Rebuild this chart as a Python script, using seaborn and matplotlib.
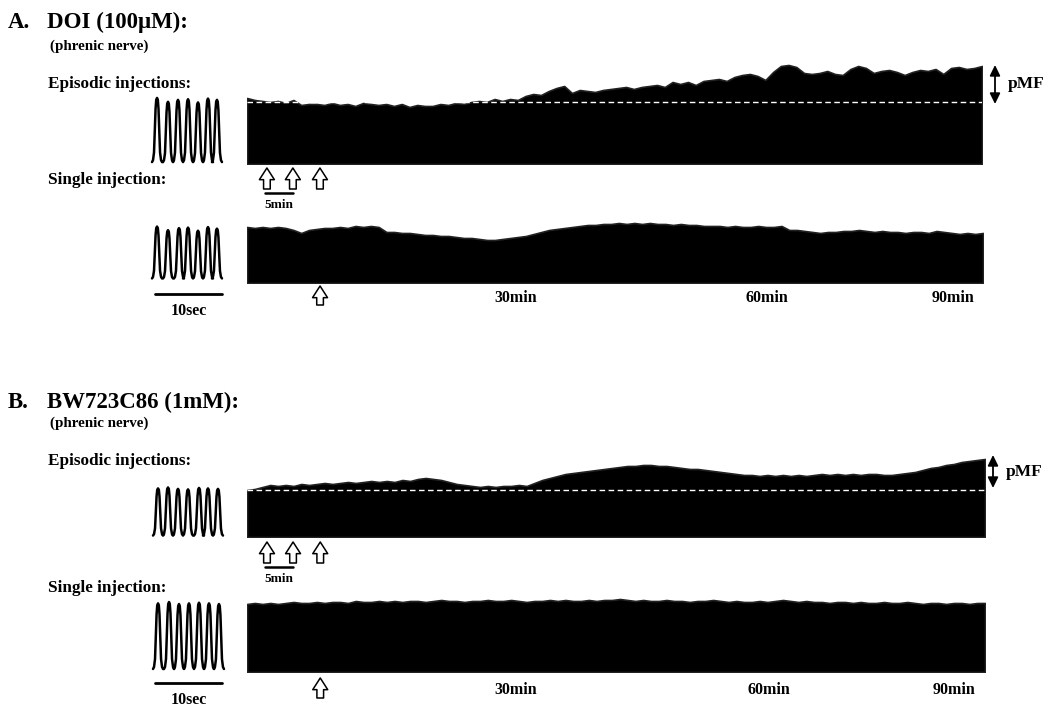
"""
Phrenic nerve recordings: DOI vs BW723C86, episodic vs single injection.
Burst snippets on the left, integrated activity envelopes on the right.
"""

import numpy as np
import matplotlib
matplotlib.use("Agg")
import matplotlib.pyplot as plt
from matplotlib import transforms
import seaborn as sns

W, H = 1050, 718

# envelope sampling step (min) and event times (min)
STEP_MIN = 1.4
INJ_EPISODIC = [3.6, 8.3, 13.2]
INJ_SINGLE = [13.2]
SCALE_5MIN = [3.3, 8.3]
TIME_LABELS = ["30min", "60min", "90min"]
TIME_LABEL_POS = [48.5, 94.0, 127.5]

# one phrenic burst (offset in s, normalised amplitude)
BURST_OFFSETS = [-0.75, -0.6, -0.45, -0.33, -0.22, -0.12, 0.0, 0.12, 0.22, 0.33, 0.45, 0.6, 0.75]
BURST_SHAPE = [0.0, 0.03, 0.15, 0.5, 0.83, 0.97, 1.0, 0.97, 0.83, 0.5, 0.15, 0.03, 0.0]

# burst peak times (s) and amplitudes
PEAKS_A_EP = [0.3, 1.94, 3.43, 4.93, 6.42, 7.91, 9.25]
AMPS_A_EP = [1.0, 0.94, 0.97, 0.98, 0.93, 0.99, 0.97]
PEAKS_A_SINGLE = [0.3, 1.94, 3.58, 4.93, 6.42, 7.91, 9.25]
AMPS_A_SINGLE = [1.0, 0.93, 0.97, 0.98, 0.92, 0.99, 0.96]
PEAKS_B_EP = [0.45, 1.94, 3.43, 4.93, 6.57, 7.91, 9.4]
AMPS_B_EP = [0.98, 1.0, 0.97, 0.96, 0.99, 0.98, 0.97]
PEAKS_B_SINGLE = [0.45, 2.09, 3.58, 5.07, 6.57, 8.06, 9.55]
AMPS_B_SINGLE = [0.98, 1.0, 0.97, 0.98, 0.99, 0.98, 0.97]

# integrated phrenic activity envelopes (a.u.)
ENV_A_EP = [66, 64, 63, 62, 63, 61, 64, 59, 60, 60, 59, 61, 59, 60, 58, 61,
            60, 59, 60, 58, 60, 57, 59, 58, 58, 60, 59, 61, 60, 62, 63, 62,
            65, 63, 65, 64, 68, 70, 69, 73, 76, 78, 71, 74, 73, 72, 74, 75,
            76, 77, 75, 77, 78, 79, 77, 82, 80, 82, 79, 83, 84, 85, 83, 87,
            89, 90, 88, 84, 92, 98, 99, 97, 91, 90, 91, 93, 90, 89, 95, 98,
            96, 91, 93, 94, 92, 89, 92, 94, 93, 95, 90, 96, 97, 95, 96, 98]
BASE_A_EP = 62.5
ENV_A_SINGLE = [56, 55, 56, 55, 56, 55, 53, 50, 53, 54, 55, 55, 56, 55, 57, 56,
                57, 56, 51, 51, 50, 50, 49, 48, 48, 47, 47, 46, 45, 45, 44, 43,
                43, 44, 45, 46, 47, 49, 51, 53, 54, 55, 56, 57, 58, 58, 59, 59,
                60, 59, 60, 59, 60, 59, 59, 58, 59, 58, 58, 57, 57, 57, 56, 57,
                56, 56, 57, 56, 56, 57, 53, 53, 52, 51, 50, 51, 51, 52, 52, 53,
                52, 51, 52, 51, 51, 50, 51, 51, 50, 52, 51, 50, 49, 50, 49, 50]
ENV_B_EP = [47, 48, 50, 52, 51, 52, 51, 53, 52, 53, 54, 53, 54, 55, 54, 55,
            56, 55, 56, 55, 57, 56, 58, 59, 58, 57, 55, 53, 52, 51, 50, 51,
            50, 51, 51, 52, 51, 54, 57, 59, 61, 63, 64, 65, 66, 67, 68, 69,
            70, 71, 71, 72, 72, 71, 71, 70, 69, 68, 68, 67, 66, 65, 64, 63,
            62, 62, 61, 62, 61, 62, 61, 62, 61, 62, 63, 62, 63, 62, 63, 62,
            63, 63, 62, 62, 63, 64, 65, 67, 69, 70, 72, 73, 75, 76, 77, 78]
BASE_B_EP = 47
ENV_B_SINGLE = [68, 69, 68, 69, 68, 69, 70, 69, 69, 70, 69, 70, 70, 69, 71, 70,
                70, 71, 70, 71, 70, 71, 71, 70, 71, 72, 71, 71, 70, 71, 71, 72,
                71, 71, 72, 71, 70, 71, 71, 72, 71, 72, 71, 71, 72, 71, 72, 72,
                73, 72, 71, 72, 71, 71, 72, 71, 71, 70, 71, 71, 72, 71, 70, 71,
                70, 70, 71, 70, 71, 72, 71, 70, 71, 70, 70, 69, 70, 70, 69, 70,
                69, 69, 70, 69, 69, 70, 69, 68, 69, 69, 68, 69, 69, 68, 69, 69]

sns.set_style("white")
plt.rcParams["font.family"] = ["Liberation Serif", "DejaVu Serif"]
plt.rcParams["font.weight"] = "bold"
plt.rcParams["text.color"] = "black"

fig = plt.figure(figsize=(W / 100, H / 100), dpi=100)


def px_axes(x0, y0, x1, y1):
    """Axes placed by pixel box (top-left origin)."""
    ax = fig.add_axes([x0 / W, 1 - y1 / H, (x1 - x0) / W, (y1 - y0) / H])
    ax.set_axis_off()
    return ax


def fy(y):
    return 1 - y / H


def label(x, y, s, size, ha="left"):
    fig.text(x / W, fy(y), s, fontsize=size, fontweight="bold",
             color="black", ha=ha, va="center")


def burst_trace(box, peaks, amps, bar_y=None):
    ax = px_axes(*box)
    xs = np.concatenate([p + np.array(BURST_OFFSETS) for p in peaks])
    ys = np.concatenate([a * np.array(BURST_SHAPE) for a in amps])
    sns.lineplot(x=xs, y=ys, ax=ax, color="black", lw=1.8,
                 sort=False, estimator=None)
    ax.set_xlim(-0.75, 10.9)
    ax.set_ylim(-0.03, 1.03)
    ax.set_axis_off()
    if bar_y is not None:
        tr = transforms.blended_transform_factory(ax.transData, fig.transFigure)
        ax.plot([0, 10], [fy(bar_y)] * 2, color="black", lw=2,
                transform=tr, clip_on=False)
        ax.text(5, fy(bar_y + 17), "10sec", transform=tr, ha="center",
                va="center", fontsize=11.5, fontweight="bold", color="black")
    return ax


def envelope(box, values, baseline=None):
    ax = px_axes(*box)
    t = np.arange(len(values)) * STEP_MIN
    ax.fill_between(t, 0, values, color="black", lw=1.2, edgecolor="#222222")
    ax.set_xlim(0, t[-1])
    ax.set_ylim(0, box[3] - box[1])
    if baseline is not None:
        ax.axhline(baseline, color="white", lw=1, ls=(0, (4, 2.5)))
    return ax


def injections(ax, times, y_top, y_bot):
    for t in times:
        ax.annotate("", xy=(t, H - y_top), xytext=(t, H - y_bot),
                    xycoords=("data", "figure pixels"),
                    textcoords=("data", "figure pixels"),
                    arrowprops=dict(arrowstyle="simple,head_length=0.7,head_width=0.9,tail_width=0.4",
                                    fc="white", ec="black", lw=1.1,
                                    mutation_scale=12, shrinkA=0, shrinkB=0),
                    annotation_clip=False)


def five_min_bar(ax, y):
    tr = transforms.blended_transform_factory(ax.transData, fig.transFigure)
    ax.plot(SCALE_5MIN, [fy(y)] * 2, color="black", lw=1.8,
            transform=tr, clip_on=False)
    ax.text(np.mean(SCALE_5MIN), fy(y + 12), "5min", transform=tr,
            ha="center", va="center", fontsize=9.5, fontweight="bold",
            color="black")


def time_labels(ax, y):
    tr = transforms.blended_transform_factory(ax.transData, fig.transFigure)
    for pos, s in zip(TIME_LABEL_POS, TIME_LABELS):
        ax.text(pos, fy(y), s, transform=tr, ha="center", va="center",
                fontsize=11.5, fontweight="bold", color="black")


def pmf(x, y0, y1):
    fig.add_artist(matplotlib.patches.FancyArrowPatch(
        (x / W, fy(y0)), (x / W, fy(y1)), transform=fig.transFigure,
        arrowstyle="<|-|>,head_length=0.45,head_width=0.22", mutation_scale=14,
        color="black", lw=1.3, shrinkA=0, shrinkB=0))
    label(x + 13, (y0 + y1) / 2, "pMF", 12.5)


# ---- Panel A: DOI ----
label(8, 22, "A.", 16.5)
label(47, 22, "DOI (100\u03bcM):", 16.5)
label(50, 46, "(phrenic nerve)", 10.8)
label(48, 84, "Episodic injections:", 12.3)
label(48, 180, "Single injection:", 12.3)

burst_trace((150, 96, 228, 164), PEAKS_A_EP, AMPS_A_EP)
ax = envelope((247, 55, 982, 164), ENV_A_EP, BASE_A_EP)
injections(ax, INJ_EPISODIC, 168, 189)
five_min_bar(ax, 193)
pmf(995, 65, 104)

burst_trace((150, 225, 228, 280), PEAKS_A_SINGLE, AMPS_A_SINGLE, bar_y=294)
ax = envelope((247, 215, 983, 283), ENV_A_SINGLE)
injections(ax, INJ_SINGLE, 286, 305)
time_labels(ax, 298)

# ---- Panel B: BW723C86 ----
label(8, 402, "B.", 16.5)
label(47, 402, "BW723C86 (1mM):", 16.5)
label(50, 423, "(phrenic nerve)", 10.8)
label(48, 461, "Episodic injections:", 12.3)
label(48, 588, "Single injection:", 12.3)

burst_trace((150, 486, 228, 537), PEAKS_B_EP, AMPS_B_EP)
ax = envelope((247, 450, 985, 537), ENV_B_EP, BASE_B_EP)
injections(ax, INJ_EPISODIC, 542, 563)
five_min_bar(ax, 567)
pmf(993, 455, 488)

burst_trace((150, 600, 228, 671), PEAKS_B_SINGLE, AMPS_B_SINGLE, bar_y=683)
ax = envelope((247, 590, 985, 672), ENV_B_SINGLE)
injections(ax, INJ_SINGLE, 678, 698)
time_labels(ax, 690)

fig.savefig("out.png", dpi=100)
